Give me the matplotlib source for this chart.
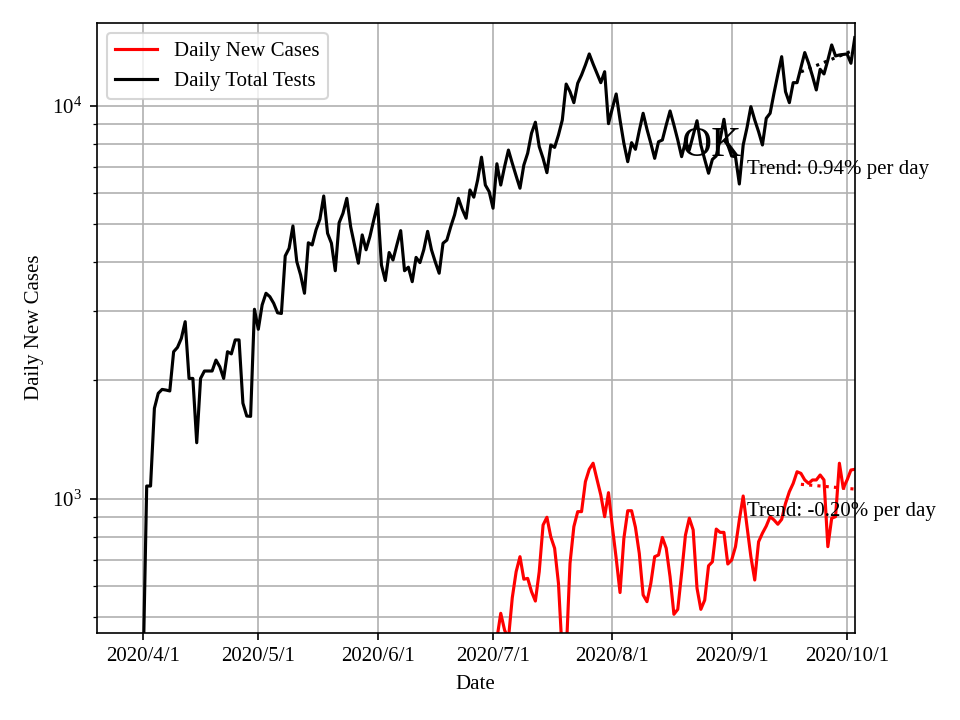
import pandas as pd
import matplotlib
matplotlib.use("Agg")
import matplotlib.pyplot as plt
import matplotlib.dates as mdates
from matplotlib.ticker import FuncFormatter

# daily total tests, one value per day starting 2020/4/1
tests_start = "2020-04-01"
daily_tests = [
    340, 1077, 1077, 1698, 1854, 1897, 1890, 1880, 2366, 2427,
    2558, 2821, 2023, 2023, 1388, 2023, 2113, 2113, 2113, 2253,
    2166, 2023, 2366, 2336, 2535, 2535, 1750, 1623, 1620, 3034,
    2698, 3112, 3332, 3266, 3142, 2972, 2960, 4147, 4335, 4943,
    4011, 3708, 3332, 4479, 4422, 4830, 5141, 5891, 4735, 4467,
    3802, 5036, 5322, 5811, 4920, 4422, 3973, 4690, 4298, 4645,
    5118, 5611, 3932, 3590, 4230, 4049, 4422, 4809, 3802, 3882,
    3566, 4111, 3987, 4300, 4789, 4298, 4000, 3747, 4467, 4550,
    4920, 5273, 5811, 5450, 5171, 6103, 5851, 6473, 7395, 6281,
    6040, 5484, 7116, 6281, 6998, 7710, 7135, 6625, 6166, 7061,
    7571, 8511, 9077, 7866, 7345, 6753, 7943, 7832, 8422, 9197,
    11350, 10856, 10178, 11403, 11973, 12694, 13540, 12766, 12089, 11443,
    12203, 9000, 9848, 10710, 9197, 8020, 7202, 8050, 7745, 8640,
    9565, 8710, 8020, 7345, 8093, 8180, 8930, 9694, 8930, 8180,
    7418, 8093, 7717, 8400, 9155, 7943, 7300, 6731, 7300, 7450,
    8200, 9234, 7943, 7446, 7418, 6320, 7943, 8800, 9942, 9197,
    8587, 7943, 9289, 9565, 10753, 12000, 13327, 10856, 10178, 11443,
    11443, 12500, 13650, 12820, 11900, 10965, 12375, 12042, 13060, 14273,
    13382, 13460, 13500, 13540, 12820, 14900,
]

# daily new cases, one value per day starting 2020/7/1
cases_start = "2020-07-01"
daily_cases = [
    380, 440, 511, 463, 440, 560, 652, 712, 624, 627,
    580, 549, 652, 857, 897, 800, 748, 609, 400, 400,
    685, 849, 927, 927, 1105, 1188, 1231, 1121, 1022, 900,
    1036, 849, 705, 577, 793, 932, 932, 846, 726, 569,
    547, 609, 712, 719, 797, 748, 633, 508, 523, 646,
    808, 892, 833, 592, 523, 552, 675, 691, 837, 821,
    821, 682, 698, 755, 883, 1016, 849, 712, 621, 777,
    817, 852, 900, 883, 861, 886, 973, 1042, 1094, 1171,
    1160, 1116, 1094, 1116, 1116, 1149, 1116, 755, 892, 900,
    1231, 1063, 1116, 1183, 1188,
]

# trend lines over the last two weeks
trend_dates = ["2020-09-19", "2020-10-03"]
tests_trend = [12190, 13880]
cases_trend = [1088, 1058]
tests_rate = 0.94
cases_rate = -0.20

plt.rcParams['font.family'] = ['Liberation Serif', 'DejaVu Serif']
plt.rcParams['mathtext.fontset'] = 'custom'
plt.rcParams['mathtext.rm'] = 'Liberation Serif'
plt.rcParams['mathtext.it'] = 'Liberation Serif:italic'
plt.rcParams['mathtext.bf'] = 'Liberation Serif:bold'

tests_dates = pd.date_range(tests_start, periods=len(daily_tests), freq="D")
cases_dates = pd.date_range(cases_start, periods=len(daily_cases), freq="D")
trend_x = pd.to_datetime(trend_dates)

fig = plt.figure(figsize=(6.4, 4.8), dpi=150)
ax = fig.add_axes([0.1007, 0.1212, 0.7897, 0.8473])

ax.plot(cases_dates, daily_cases, color='red', label='Daily New Cases')
ax.plot(tests_dates, daily_tests, color='black', label='Daily Total Tests')
ax.plot(trend_x, cases_trend, color='red', linestyle=':')
ax.plot(trend_x, tests_trend, color='black', linestyle=':')

ax.set_yscale('log')
ax.set_ylim(456, 16262)
ax.set_xlim(pd.Timestamp("2020-03-20"), pd.Timestamp("2020-10-03"))

ax.text(pd.Timestamp("2020-09-05"), 6703, f"Trend: {tests_rate:.2f}% per day",
        fontsize=10, va='baseline', ha='left')
ax.text(pd.Timestamp("2020-09-05"), 904, f"Trend: {cases_rate:.2f}% per day",
        fontsize=10, va='baseline', ha='left')
ax.text(pd.Timestamp("2020-08-19"), 7450, "OK", fontsize=20, va='baseline', ha='left')

ax.xaxis.set_major_locator(mdates.MonthLocator())
ax.xaxis.set_major_formatter(FuncFormatter(
    lambda x, pos: "{0.year}/{0.month}/{0.day}".format(mdates.num2date(x))))

ax.grid(True, which='both')
ax.set_xlabel("Date")
ax.set_ylabel("Daily New Cases")
ax.legend(loc='upper left')

fig.savefig("out.png", dpi=150)
